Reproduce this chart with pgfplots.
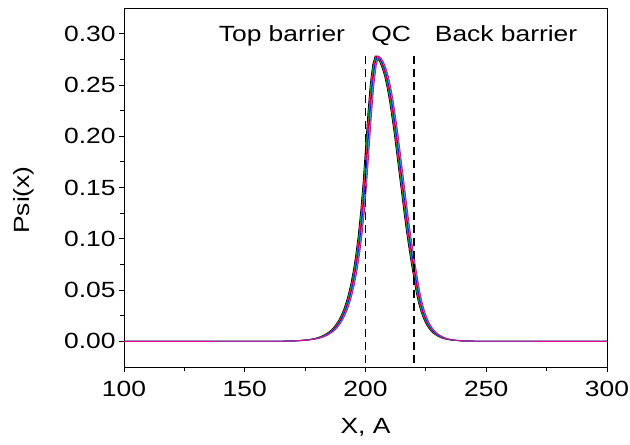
\documentclass[border=0pt]{standalone}
\usepackage{pgfplots}
\pgfplotsset{compat=1.18}
\usepackage{pgfplotstable}
\usepackage{fontspec}
\setmainfont{Liberation Sans}[FakeStretch=1.2]
\newcommand{\bigf}{\fontsize{22bp}{26bp}\selectfont}
\pgfplotstableread{
xa xb xc xd xe xf y
100 100 100 100 100 100 0
165 165.3 165.6 165.9 166.2 166.5 0.0001
168 168.3 168.6 168.9 169.2 169.5 0.0003
172 172.3 172.6 172.9 173.2 173.5 0.0007
175 175.3 175.6 175.9 176.2 176.5 0.0013
177 177.3 177.6 177.9 178.2 178.5 0.0019
179 179.3 179.6 179.9 180.2 180.5 0.0028
181 181.3 181.6 181.9 182.2 182.5 0.0042
183 183.3 183.6 183.9 184.2 184.5 0.0063
185 185.3 185.6 185.9 186.2 186.5 0.0094
186 186.3 186.6 186.9 187.2 187.5 0.0114
187 187.3 187.6 187.9 188.2 188.5 0.0140
188 188.3 188.6 188.9 189.2 189.5 0.0171
189 189.3 189.6 189.9 190.2 190.5 0.0209
190 190.3 190.6 190.9 191.2 191.5 0.0255
191 191.3 191.6 191.9 192.2 192.5 0.0311
192 192.3 192.6 192.9 193.2 193.5 0.0380
193 193.3 193.6 193.9 194.2 194.5 0.0464
194 194.3 194.6 194.9 195.2 195.5 0.0566
195 195.3 195.6 195.9 196.2 196.5 0.0692
196 196.3 196.6 196.9 197.2 197.5 0.0845
197 197.3 197.6 197.9 198.2 198.5 0.103
198 198.3 198.6 198.9 199.2 199.5 0.126
199 199.3 199.6 199.9 200.2 200.5 0.154
200 200.3 200.6 200.9 201.2 201.5 0.188
201 201.3 201.6 201.9 202.2 202.5 0.222
202 202.3 202.6 202.9 203.2 203.5 0.251
203 203.3 203.6 203.9 204.2 204.5 0.270
204 204.3 204.6 204.9 205.2 205.5 0.278
205 205.3 205.6 205.9 206.2 206.5 0.276
206 206.3 206.6 206.9 207.2 207.5 0.272
207 207.3 207.6 207.9 208.2 208.5 0.266
208 208.3 208.6 208.9 209.2 209.5 0.258
209 209.3 209.6 209.9 210.2 210.5 0.247
210 210.3 210.6 210.9 211.2 211.5 0.234
211 211.3 211.6 211.9 212.2 212.5 0.218
212 212.3 212.6 212.9 213.2 213.5 0.201
213 213.3 213.6 213.9 214.2 214.5 0.182
214 214.3 214.6 214.9 215.2 215.5 0.163
215 215.3 215.6 215.9 216.2 216.5 0.144
216 216.3 216.6 216.9 217.2 217.5 0.125
217 217.3 217.6 217.9 218.2 218.5 0.107
218 218.3 218.6 218.9 219.2 219.5 0.091
219 219.3 219.6 219.9 220.2 220.5 0.076
220 220.3 220.6 220.9 221.2 221.5 0.062
221 221.3 221.6 221.9 222.2 222.5 0.0481
222 222.3 222.6 222.9 223.2 223.5 0.0373
223 223.3 223.6 223.9 224.2 224.5 0.0290
224 224.3 224.6 224.9 225.2 225.5 0.0225
225 225.3 225.6 225.9 226.2 226.5 0.0174
226 226.3 226.6 226.9 227.2 227.5 0.0135
227 227.3 227.6 227.9 228.2 228.5 0.0105
228 228.3 228.6 228.9 229.2 229.5 0.0081
230 230.3 230.6 230.9 231.2 231.5 0.0049
232 232.3 232.6 232.9 233.2 233.5 0.0029
234 234.3 234.6 234.9 235.2 235.5 0.0018
236 236.3 236.6 236.9 237.2 237.5 0.0011
240 240.3 240.6 240.9 241.2 241.5 0.0004
245 245.3 245.6 245.9 246.2 246.5 0.0001
300 300 300 300 300 300 0
}\psidata
\begin{document}
\begin{tikzpicture}
\useasboundingbox (-124bp,-78bp) rectangle (506bp,367bp);
\begin{axis}[
  at={(0,0)}, anchor=south west,
  scale only axis, width=483bp, height=359bp,
  xmin=100, xmax=300, ymin=-0.025, ymax=0.325,
  xtick={100,150,200,250,300},
  ytick={0,0.05,0.1,0.15,0.2,0.25,0.3},
  minor tick num=1,
  tick align=outside, tick pos=left,
  major tick length=5bp, minor tick length=3.5bp,
  every tick/.style={black, line width=0.8bp},
  axis line style={line width=0.9bp, black},
  /pgf/number format/assume math mode=true,
  yticklabel style={/pgf/number format/fixed, /pgf/number format/fixed zerofill, /pgf/number format/precision=2},
  xticklabel style={yshift=-6bp},
  every tick label/.append style={font=\bigf},
  xlabel={X, A}, ylabel={Psi(x)},
  label style={font=\bigf},
  xlabel style={at={(axis description cs:0.5,-0.168)}, anchor=center},
  ylabel style={at={(axis description cs:-0.208,0.465)}, anchor=center},
  clip=false,
]
\addplot[black, line width=0.9bp] table[x=xa, y=y] {\psidata};
\addplot[green!60!black, line width=0.9bp] table[x=xb, y=y] {\psidata};
\addplot[red, line width=0.9bp] table[x=xc, y=y] {\psidata};
\addplot[blue, line width=0.9bp] table[x=xd, y=y] {\psidata};
\addplot[cyan, line width=0.9bp] table[x=xe, y=y] {\psidata};
\addplot[magenta, line width=0.9bp] table[x=xf, y=y] {\psidata};
\addplot[black, line width=1.6bp, dash pattern=on 8bp off 5bp] coordinates {(200,-0.021) (200,0.281)};
\addplot[black, line width=1.6bp, dash pattern=on 8bp off 5bp] coordinates {(220,-0.021) (220,0.281)};
\node[font=\bigf, anchor=base] at (axis cs:165.4,0.292) {Top barrier};
\node[font=\bigf, anchor=base] at (axis cs:210.6,0.292) {QC};
\node[font=\bigf, anchor=base] at (axis cs:258.2,0.292) {Back barrier};
\end{axis}
\end{tikzpicture}
\end{document}
